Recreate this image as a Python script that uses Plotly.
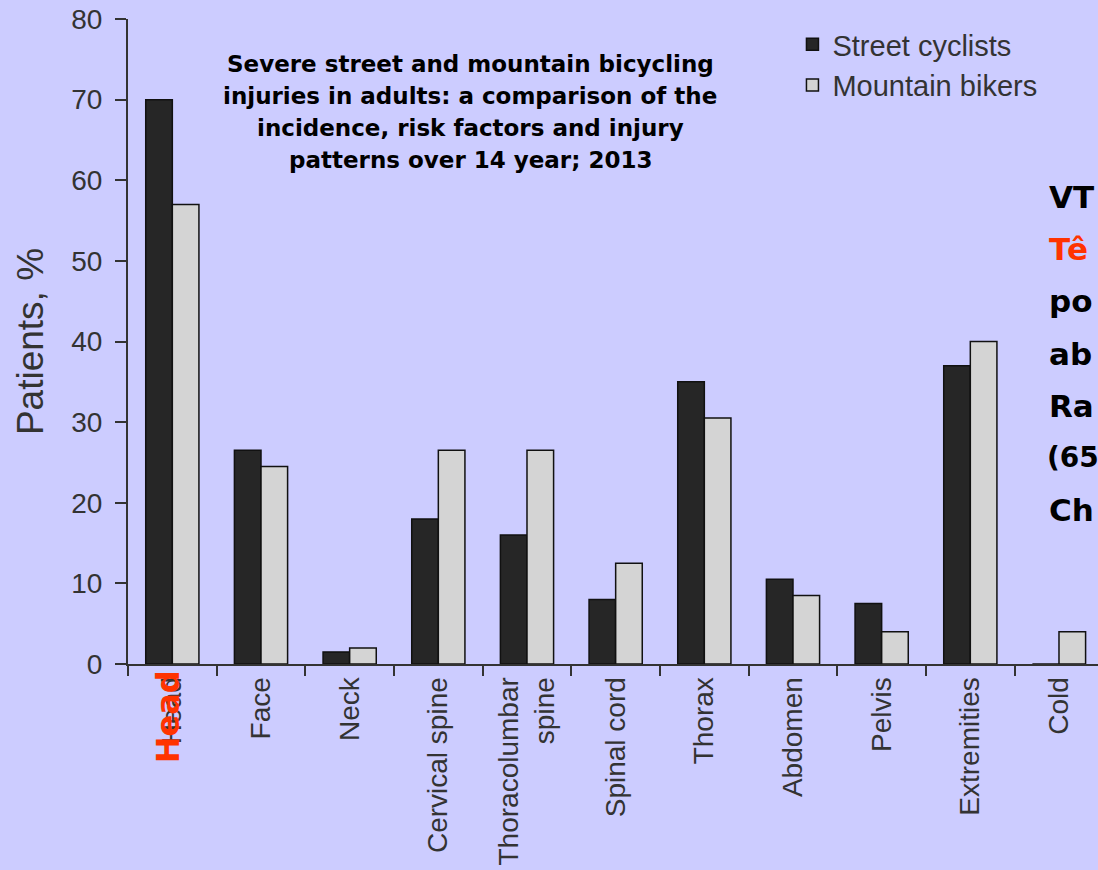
import plotly.graph_objects as go

categories = ["Head", "Face", "Neck", "Cervical spine", "Thoracolumbar<br>spine",
              "Spinal cord", "Thorax", "Abdomen", "Pelvis", "Extremities", "Cold"]
street = [70, 26.5, 1.5, 18, 16, 8, 35, 10.5, 7.5, 37, 0]
mountain = [57, 24.5, 2, 26.5, 26.5, 12.5, 30.5, 8.5, 4, 40, 4]
y_ticks = [0, 10, 20, 30, 40, 50, 60, 70, 80]

title_lines = ["Severe street and mountain bicycling",
               "injuries in adults: a comparison of the",
               "incidence, risk factors and injury",
               "patterns over 14 year; 2013"]
# right-hand note, only the part visible inside the picture
side_lines = [("VT", "black", 31), ("Tê", "#FF3300", 31), ("po", "black", 31),
              ("ab", "black", 31), ("Ra", "black", 31), ("(65", "black", 28),
              ("Ch", "black", 31)]

BG = "#CCCCFF"
fig = go.Figure()
fig.add_trace(go.Bar(x=categories, y=street, name="Street cyclists",
                     marker=dict(color="#262626", line=dict(color="#111", width=1.5))))
fig.add_trace(go.Bar(x=categories, y=mountain, name="Mountain bikers",
                     marker=dict(color="#D4D4D4", line=dict(color="#111", width=1.5))))

comic = "DejaVu Sans, Noto Sans, sans-serif"
fig.update_layout(
    width=1098, height=870,
    paper_bgcolor=BG, plot_bgcolor=BG,
    margin=dict(l=128, r=0, t=19, b=206),
    barmode="group", bargap=0.4, bargroupgap=0,
    font=dict(family="Liberation Sans, Arial, sans-serif", color="#222"),
    legend=dict(x=0.685, y=1.0, xanchor="left", yanchor="top",
                bgcolor="rgba(0,0,0,0)", font=dict(size=29, color="#333"),
                itemwidth=30, tracegroupgap=0),
    showlegend=True,
)
fig.update_xaxes(
    type="category", range=[-0.5, 10.44], tickson="boundaries",
    ticks="outside", ticklen=10, tickwidth=2, tickcolor="#333",
    showline=True, linecolor="#333", linewidth=2,
    tickangle=-90, tickfont=dict(size=28, color="#333"),
    showgrid=False, zeroline=False,
)
fig.update_yaxes(
    range=[0, 80], tickvals=y_ticks, ticks="outside", ticklen=11, tickwidth=2,
    tickcolor="#333", showline=True, linecolor="#333", linewidth=2,
    tickfont=dict(size=28, color="#333"), ticklabelstandoff=7,
    showgrid=False, zeroline=False,
    title=dict(text="Patients, %", font=dict(size=37, color="#333"), standoff=16),
)
fig.add_shape(type="line", xref="paper", yref="paper", x0=-0.012, x1=0, y0=0, y1=0,
              line=dict(color="#333", width=2))

for i, line in enumerate(title_lines):
    fig.add_annotation(text=line, xref="paper", yref="paper",
                       x=0.3526, y=(664 - 64 - i * 32) / 645,
                       xanchor="center", yanchor="middle",
                       showarrow=False, align="center",
                       font=dict(family=comic, size=23, color="black", weight="bold"))

for i, (txt, col, sz) in enumerate(side_lines):
    fig.add_annotation(text="<b>%s</b>" % txt, xref="paper", yref="paper",
                       x=0.947, y=(664 - 197 - i * 52.2) / 645,
                       xanchor="left", yanchor="middle", showarrow=False,
                       xshift=-2 if sz < 31 else 0,
                       font=dict(family=comic, size=sz, color=col))

fig.add_annotation(text="<b>Head</b>", xref="x", yref="paper", x="Head",
                   y=-0.082, textangle=-90, xanchor="center", yanchor="middle",
                   xshift=-4, showarrow=False,
                   font=dict(family=comic, size=32, color="#FF3300"))

fig.write_html("out.html", config={"displayModeBar": False},
               post_script="document.body.style.margin='0';")
